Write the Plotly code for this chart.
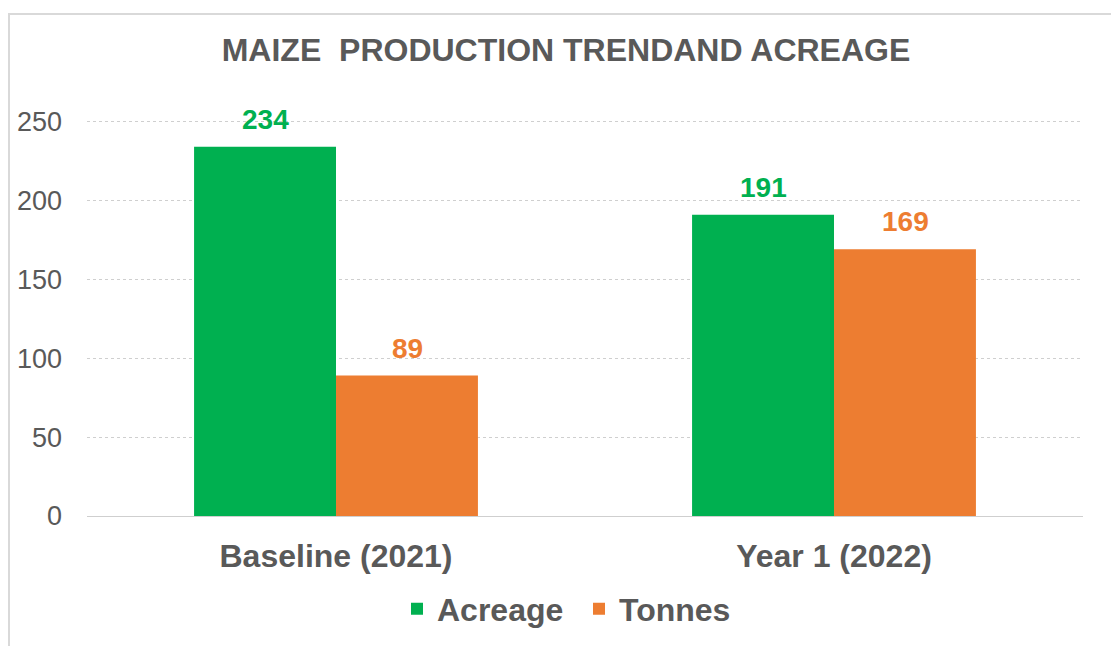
import plotly.graph_objects as go

categories = ["Baseline (2021)", "Year 1 (2022)"]
acreage = [234, 191]
tonnes = [89, 169]
series_names = ["Acreage", "Tonnes"]
y_ticks = [0, 50, 100, 150, 200, 250]

GREEN = "#00B050"
ORANGE = "#ED7D31"
TXT = "#595959"
FONT = "Liberation Sans, Arial, sans-serif"

fig = go.Figure()
fig.add_trace(go.Bar(x=categories, y=acreage, name=f"<b>{series_names[0]}</b>", marker_color=GREEN,
                     marker_line_width=0))
fig.add_trace(go.Bar(x=categories, y=tonnes, name=f"<b>{series_names[1]}</b>", marker_color=ORANGE,
                     marker_line_width=0))

annotations = []
for vals, color, shift in [(acreage, GREEN, -71), (tonnes, ORANGE, 71)]:
    for c, v in zip(categories, vals):
        annotations.append(dict(x=c, y=v, xref="x", yref="y", text=f"<b>{v}</b>",
                                showarrow=False, xshift=shift, yanchor="bottom", yshift=10,
                                font=dict(family=FONT, size=28, color=color)))

YMAX = 251
L, R, T, B = 87, 28, 120, 130
W, H = 1111, 646
pw, ph = W - L - R, H - T - B

fig.update_layout(
    width=W, height=H,
    margin=dict(l=L, r=R, t=T, b=B, autoexpand=False),
    paper_bgcolor="white", plot_bgcolor="white",
    barmode="group", bargap=0.43, bargroupgap=0,
    title=dict(text="<b>MAIZE  PRODUCTION TRENDAND ACREAGE</b>", x=(566 - L) / pw, xref="paper",
               xanchor="center", y=1 - 50 / H, yanchor="middle",
               font=dict(family=FONT, size=32, color=TXT)),
    font=dict(family=FONT, color=TXT),
    showlegend=True,
    legend=dict(orientation="h", x=(579 - L) / pw, xanchor="center", y=(516 - 609) / ph,
                yanchor="middle", font=dict(family=FONT, size=32, color=TXT),
                itemsizing="constant", traceorder="normal", itemwidth=30,
                entrywidth=137, entrywidthmode="pixels"),
    annotations=annotations,
    shapes=[dict(type="rect", xref="paper", yref="paper",
                 x0=(9 - L) / pw, x1=(1200 - L) / pw, y0=(516 - 700) / ph, y1=(516 - 14) / ph,
                 line=dict(color="#d9d9d9", width=2), fillcolor="rgba(0,0,0,0)", layer="below")],
)
fig.update_yaxes(range=[0, YMAX], tickvals=y_ticks, showgrid=True, gridcolor="#cfcfcf",
                 griddash="dot", gridwidth=1, zeroline=False, showline=False, automargin=False,
                 tickfont=dict(family=FONT, size=27, color=TXT), ticklabelstandoff=24)
fig.update_xaxes(showline=True, linecolor="#cfcfcf", linewidth=1, ticks="", automargin=False,
                 tickfont=dict(family=FONT, size=32, color=TXT), ticklabelstandoff=12)
fig.update_xaxes(ticktext=[f"<b>{c}</b>" for c in categories], tickvals=categories)

fig.write_html("out.html", config={"displayModeBar": False},
               post_script="document.body.style.margin='0';")
